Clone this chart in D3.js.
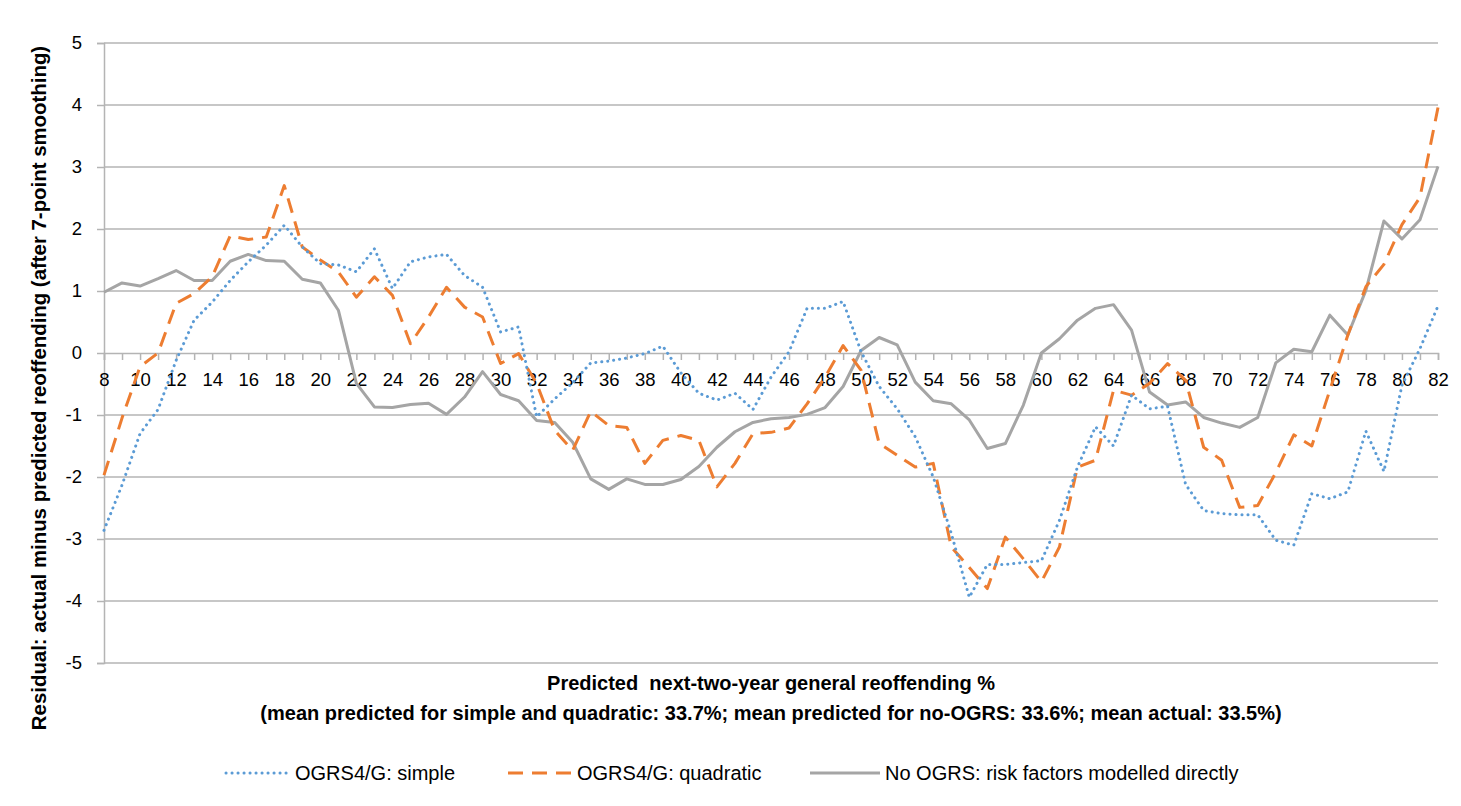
<!DOCTYPE html>
<html>
<head>
<meta charset="utf-8">
<script src="https://cdn.jsdelivr.net/npm/d3@7"></script>
<style>
  body { margin: 0; background: #fff; }
  text { font-family: "Liberation Sans", Arial, sans-serif; fill: #000; }
</style>
</head>
<body>
<div id="app"></div>
<script>
// predicted reoffending % (category axis)
const categories = d3.range(8, 83);

const simple = [
  -2.86, -2.13, -1.3, -0.91, -0.12, 0.53, 0.82, 1.17, 1.47, 1.74,
  2.06, 1.71, 1.44, 1.42, 1.31, 1.68, 1.04, 1.47, 1.55, 1.59,
  1.25, 1.06, 0.34, 0.42, -1.03, -0.74, -0.48, -0.16, -0.13, -0.08,
  -0.01, 0.11, -0.32, -0.65, -0.76, -0.65, -0.91, -0.39, 0.02, 0.72,
  0.72, 0.83, 0.02, -0.54, -0.9, -1.35, -2.0, -2.91, -3.94, -3.41,
  -3.41, -3.38, -3.35, -2.7, -1.84, -1.19, -1.5, -0.68, -0.9, -0.86,
  -2.12, -2.54, -2.59, -2.61, -2.61, -3.02, -3.1, -2.27, -2.35, -2.24,
  -1.26, -1.91, -0.52, 0.07, 0.76
];

const quadratic = [
  -1.97, -1.05, -0.22, 0.0, 0.8, 0.96, 1.23, 1.89, 1.83, 1.87,
  2.7, 1.71, 1.5, 1.31, 0.9, 1.23, 0.93, 0.15, 0.58, 1.06,
  0.74, 0.58, -0.17, -0.01, -0.49, -1.25, -1.57, -0.94, -1.17, -1.2,
  -1.78, -1.41, -1.33, -1.41, -2.16, -1.78, -1.3, -1.28, -1.21, -0.82,
  -0.39, 0.12, -0.28, -1.46, -1.65, -1.84, -1.78, -3.13, -3.46, -3.8,
  -2.97, -3.32, -3.69, -3.13, -1.84, -1.73, -0.6, -0.68, -0.49, -0.17,
  -0.44, -1.52, -1.73, -2.49, -2.46, -1.93, -1.32, -1.5, -0.6, 0.29,
  1.07, 1.43, 2.07, 2.51, 3.96
];

const noOgrs = [
  0.98, 1.13, 1.08, 1.2, 1.33, 1.17, 1.17, 1.48, 1.59, 1.49,
  1.48, 1.19, 1.13, 0.69, -0.49, -0.87, -0.88, -0.83, -0.81, -0.99,
  -0.71, -0.3, -0.67, -0.77, -1.09, -1.12, -1.44, -2.03, -2.2, -2.03,
  -2.12, -2.12, -2.04, -1.83, -1.52, -1.27, -1.12, -1.06, -1.04, -0.99,
  -0.88, -0.54, 0.04, 0.25, 0.13, -0.47, -0.77, -0.82, -1.08, -1.54,
  -1.46, -0.84, 0.0, 0.23, 0.53, 0.72, 0.78, 0.37, -0.63, -0.84,
  -0.79, -1.04, -1.13, -1.2, -1.04, -0.16, 0.06, 0.02, 0.61, 0.29,
  1.01, 2.13, 1.84, 2.15, 3.01
];

const yTicks = d3.range(-5, 6);

const seriesNames = [
  'OGRS4/G: simple',
  'OGRS4/G: quadratic',
  'No OGRS: risk factors modelled directly'
];

const xTitle = 'Predicted  next-two-year general reoffending %';
const xSubtitle = '(mean predicted for simple and quadratic: 33.7%; mean predicted for no-OGRS: 33.6%; mean actual: 33.5%)';
const yTitle = 'Residual: actual minus predicted reoffending (after 7-point smoothing)';

const width = 1461;
const height = 806;

const svg = d3.select('#app').append('svg')
  .attr('width', width)
  .attr('height', height);

const margin = { top: 43, right: 23, bottom: 143, left: 104 };

const x = d3.scalePoint()
  .domain(categories)
  .range([margin.left, width - margin.right]);

const y = d3.scaleLinear()
  .domain([-5, 5])
  .range([height - margin.bottom, margin.top]);

const gridColor = '#b4b4b4';

// horizontal gridlines
svg.append('g')
  .selectAll('line')
  .data(yTicks.filter(d => d !== 0))
  .enter().append('line')
  .attr('x1', margin.left)
  .attr('x2', width - margin.right)
  .attr('y1', d => y(d))
  .attr('y2', d => y(d))
  .attr('stroke', gridColor)
  .attr('stroke-width', 1.5);

// y axis
const yAxis = svg.append('g')
  .attr('transform', `translate(${margin.left},0)`)
  .call(d3.axisLeft(y).tickValues(yTicks).tickSize(7).tickPadding(15).tickFormat(d => d));
yAxis.select('.domain').attr('stroke', gridColor).attr('stroke-width', 1.5);
yAxis.selectAll('.tick line').attr('stroke', gridColor).attr('stroke-width', 1.5);
yAxis.selectAll('.tick text')
  .style('font-size', '18.5px')
  .attr('fill', '#000');

// x axis on the zero line
const xAxis = svg.append('g')
  .attr('transform', `translate(0,${y(0)})`)
  .call(d3.axisBottom(x).tickSize(7).tickPadding(13).tickFormat(d => d % 2 === 0 ? d : ''));
xAxis.select('.domain').attr('stroke', gridColor).attr('stroke-width', 1.5);
xAxis.selectAll('.tick line').attr('stroke', gridColor).attr('stroke-width', 1.5);
xAxis.selectAll('.tick text')
  .style('font-size', '18.5px')
  .attr('fill', '#000');

const line = d3.line()
  .x((d, i) => x(categories[i]))
  .y(d => y(d));

const styles = [
  { data: simple, color: '#5b9bd5', width: 3, dash: '0.1 5.9', cap: 'round' },
  { data: quadratic, color: '#ed7d31', width: 3, dash: '15 9', cap: 'butt' },
  { data: noOgrs, color: '#a5a5a5', width: 3, dash: null, cap: 'butt' }
];

// draw grey first, then orange, then blue on top
[2, 1, 0].forEach(i => {
  const s = styles[i];
  svg.append('path')
    .datum(s.data)
    .attr('d', line)
    .attr('fill', 'none')
    .attr('stroke', s.color)
    .attr('stroke-width', s.width)
    .attr('stroke-dasharray', s.dash)
    .attr('stroke-linecap', s.cap)
    .attr('stroke-linejoin', 'round');
});

// axis titles
svg.append('text')
  .attr('x', 771)
  .attr('y', 690)
  .attr('text-anchor', 'middle')
  .style('font-size', '20px')
  .style('font-weight', 'bold')
  .style('white-space', 'pre')
  .text(xTitle);

svg.append('text')
  .attr('x', 771)
  .attr('y', 720)
  .attr('text-anchor', 'middle')
  .style('font-size', '20px')
  .style('font-weight', 'bold')
  .text(xSubtitle);

svg.append('text')
  .attr('transform', 'translate(46,388) rotate(-90)')
  .attr('text-anchor', 'middle')
  .style('font-size', '20.4px')
  .style('font-weight', 'bold')
  .text(yTitle);

// legend
const legendX = [226, 508, 810];
const legendW = [64, 64, 70];
const legend = svg.append('g');
styles.forEach((s, i) => {
  const g = legend.append('g').attr('transform', `translate(${legendX[i]},773)`);
  g.append('line')
    .attr('x1', 0).attr('x2', legendW[i])
    .attr('stroke', s.color)
    .attr('stroke-width', s.width)
    .attr('stroke-dasharray', s.dash)
    .attr('stroke-linecap', s.cap);
  g.append('text')
    .attr('x', legendW[i] + 5)
    .attr('dy', '0.35em')
    .style('font-size', '20px')
    .text(seriesNames[i]);
});
</script>
</body>
</html>
